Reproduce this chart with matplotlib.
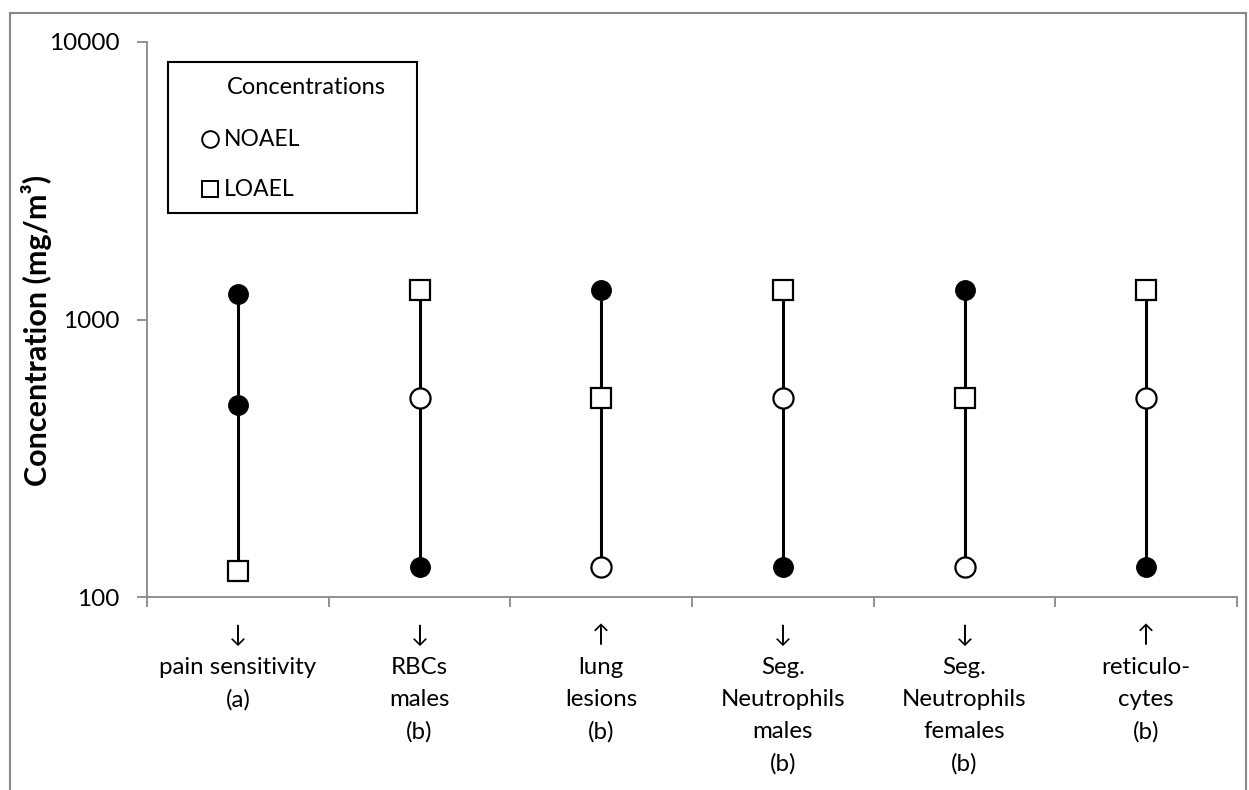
import matplotlib
matplotlib.use('Agg')
import matplotlib.pyplot as plt
from matplotlib.patches import Rectangle
from matplotlib.lines import Line2D

plt.rcParams['font.family'] = ['Lato', 'DejaVu Sans']

# categories (x labels)
categories = [
    "\u2193\npain sensitivity\n(a)",
    "\u2193\nRBCs\nmales\n(b)",
    "\u2191\nlung\nlesions\n(b)",
    "\u2193\nSeg.\nNeutrophils\nmales\n(b)",
    "\u2193\nSeg.\nNeutrophils\nfemales\n(b)",
    "\u2191\nreticulo-\ncytes\n(b)",
]

# NOAEL (open circles)
noael_x = [1, 2, 3, 4, 5]
noael_y = [520, 128, 520, 128, 520]
# LOAEL (open squares)
loael_x = [0, 1, 2, 3, 4, 5]
loael_y = [124, 1280, 520, 1280, 520, 1280]
# other tested concentrations (filled circles)
other_x = [0, 0, 1, 2, 3, 4, 5]
other_y = [1240, 490, 128, 1280, 128, 1280, 128]

W, H = 1249, 790
fig = plt.figure(figsize=(W / 100, H / 100), dpi=100)
ax = fig.add_axes([147 / W, 1 - 597 / H, (1237 - 147) / W, (597 - 42) / H])

# vertical range lines
all_x = noael_x + loael_x + other_x
all_y = noael_y + loael_y + other_y
for i in range(len(categories)):
    ys = [y for x, y in zip(all_x, all_y) if x == i]
    ax.plot([i + 0.5, i + 0.5], [min(ys), max(ys)], color='black', lw=2.2, zorder=1)

ax.plot([x + 0.5 for x in other_x], other_y, 'o', ms=14, mfc='black', mec='black', ls='none', zorder=3)
ax.plot([x + 0.5 for x in noael_x], noael_y, 'o', ms=14.5, mfc='white', mec='black', mew=1.6, ls='none', zorder=3)
ax.plot([x + 0.5 for x in loael_x], loael_y, 's', ms=15, mfc='white', mec='black', mew=1.6, ls='none', zorder=3)

ax.set_yscale('log')
ax.set_ylim(100, 10000)
ax.set_xlim(0, 6)
ax.set_yticks([100, 1000, 10000])
ax.set_yticklabels(['100', '1000', '10000'])
ax.yaxis.set_minor_locator(matplotlib.ticker.NullLocator())
ax.set_xticks(range(7))
ax.set_xticklabels([''] * 7)
ax.set_xticks([i + 0.5 for i in range(6)], minor=True)
ax.set_xticklabels(categories, minor=True, fontsize=17.3, linespacing=1.64)
ax.tick_params(axis='x', which='minor', length=0, pad=20)
ax.tick_params(axis='x', which='major', length=7, color='#898989', width=1.3)
ax.tick_params(axis='y', length=7, color='#898989', width=1.3, labelsize=17.5, pad=13)

for s in ['top', 'right']:
    ax.spines[s].set_visible(False)
for s in ['left', 'bottom']:
    ax.spines[s].set_color('#898989')
    ax.spines[s].set_linewidth(1.3)

fig.text(37 / W, 1 - 330 / H, 'Concentration (mg/m\u00b3)', rotation=90, ha='center', va='center',
         fontsize=22, fontweight='bold')

# legend box
fig.patches.append(Rectangle((168 / W, 1 - 213 / H), (417 - 168) / W, (213 - 62) / H,
                             transform=fig.transFigure, fill=False, ec='black', lw=1.5))
fig.text(306 / W, 1 - 88 / H, 'Concentrations', ha='center', va='center', fontsize=17)
fig.add_artist(Line2D([210 / W], [1 - 139 / H], marker='o', ms=12, mfc='white', mec='black', mew=1.4,
                      transform=fig.transFigure))
fig.add_artist(Line2D([210 / W], [1 - 189 / H], marker='s', ms=12, mfc='white', mec='black', mew=1.4,
                      transform=fig.transFigure))
fig.text(224 / W, 1 - 139 / H, 'NOAEL', ha='left', va='center', fontsize=16.5)
fig.text(224 / W, 1 - 189 / H, 'LOAEL', ha='left', va='center', fontsize=16.5)

# outer chart border
fig.patches.append(Rectangle((10 / W, -0.05), (1246 - 10) / W, 1.05 - 13 / H,
                             transform=fig.transFigure, fill=False, ec='#898989', lw=1.5))

fig.savefig('out.png', dpi=100)
